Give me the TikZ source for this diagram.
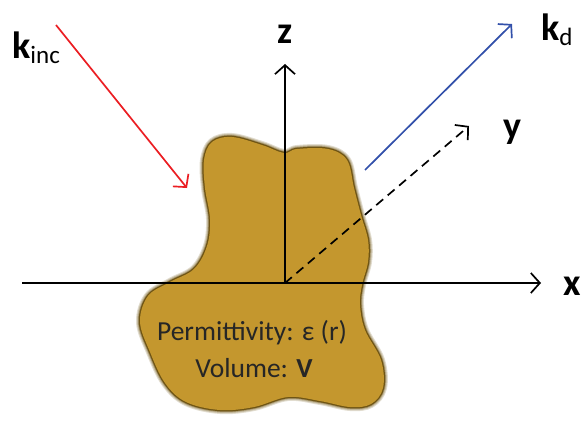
\documentclass[tikz,border=0pt]{standalone}
\usepackage{fontspec}
\setmainfont{Carlito}
\usetikzlibrary{arrows.meta}
\definecolor{blobfill}{RGB}{196,151,46}
\definecolor{blobedge}{RGB}{110,84,20}
\definecolor{kred}{RGB}{235,30,35}
\definecolor{kblue}{RGB}{50,80,170}
\newcommand{\ksub}[1]{\textbf{k}\raisebox{-0.28ex}{\fontsize{25}{28}\selectfont\mdseries #1}}

\begin{document}
\begin{tikzpicture}[
      x=1pt,y=-1pt,
      axis/.style={line width=1.7pt,-{Straight Barb[length=9pt,width=20pt,line width=1.7pt]}},
      wave/.style={line width=1.7pt,-{Straight Barb[length=9pt,width=20pt,line width=1.7pt]}},
      lbl/.style={font=\fontsize{38}{40}\selectfont\bfseries,inner sep=0pt},
      txt/.style={font=\fontsize{27.5}{30}\selectfont,color=black!85,inner sep=0pt},
    ]
    \useasboundingbox (0,0) rectangle (584,428);

    % scatterer
    \foreach \w/\c in {8/blobedge!20,6/blobedge!40,4/blobedge!65,2.5/blobedge}
      \draw[line width=\w pt,color=\c,line join=round]
        plot[smooth cycle,tension=0.6] coordinates {
          (212,142) (232,137) (262,145) (284,153) (297,149) (328,149) (347,160)
          (354,188) (361,215) (368,240) (368,262) (362,285) (360,305) (365,330)
          (381,360) (383,388) (371,404) (350,407) (320,401) (288,397) (254,407)
          (220,410) (186,402) (165,383) (150,352) (140,322) (148,296) (170,282)
          (194,269) (207,246) (210,219) (205,188) (204,160)};
    \fill[blobfill]
      plot[smooth cycle,tension=0.6] coordinates {
        (212,142) (232,137) (262,145) (284,153) (297,149) (328,149) (347,160)
        (354,188) (361,215) (368,240) (368,262) (362,285) (360,305) (365,330)
        (381,360) (383,388) (371,404) (350,407) (320,401) (288,397) (254,407)
        (220,410) (186,402) (165,383) (150,352) (140,322) (148,296) (170,282)
        (194,269) (207,246) (210,219) (205,188) (204,160)};

    % axes
    \coordinate (o) at (285,283);
    \coordinate (xstart) at (22,283);
    \coordinate (xend) at (541,283);
    \coordinate (zend) at (285,64);
    \coordinate (yend) at (469,126);
    \draw[axis] (xstart) -- (xend);
    \draw[axis] (o) -- (zend);
    \draw[axis,dashed,dash pattern=on 9pt off 6pt] (o) -- (yend);
    \node[lbl] (xlbl) at (572,286) {x};
    \node[lbl] (zlbl) at (285,34) {z};
    \node[lbl] (ylbl) at (512,132) {y};

    % incident and scattered waves
    \coordinate (kincstart) at (56,25);
    \coordinate (kincend) at (187,188);
    \coordinate (kdstart) at (365,170);
    \coordinate (kdend) at (512,24);
    \draw[wave,kred] (kincstart) -- (kincend);
    \draw[wave,kblue] (kdstart) -- (kdend);
    \node[lbl,anchor=west] (kinc) at (12,48) {\ksub{inc}};
    \node[lbl,anchor=west] (kd) at (541,30) {\ksub{d}};

    % material labels
    \node[txt] (perm) at (252,333) {Permittivity: ε (r)};
    \node[txt] (vol) at (254,368) {Volume: \textbf{V}};
  \end{tikzpicture}
\end{document}
